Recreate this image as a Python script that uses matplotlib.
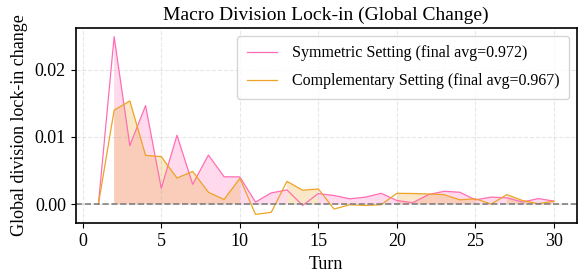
import matplotlib
matplotlib.use("Agg")
import matplotlib.pyplot as plt
import numpy as np

turns = list(range(1, 31))
symmetric = [0.0, 0.0249, 0.0087, 0.01465, 0.00235, 0.01024, 0.00294, 0.0073, 0.00406, 0.00404,
             0.0003, 0.00166, 0.0021, -0.0002, 0.00156, 0.00127, 0.00078, 0.00103, 0.0016, 0.00053,
             0.0002, 0.0014, 0.0019, 0.00176, 0.00063, 0.00103, 0.00093, 0.0003, 0.00082, 0.00044]
complementary = [0.0, 0.01397, 0.01534, 0.00725, 0.00706, 0.00387, 0.00485, 0.00176, 0.00068, 0.00382,
                 -0.00153, -0.00123, 0.00338, 0.00206, 0.00225, -0.00074, -0.0001, -0.0002, -0.0001, 0.0016,
                 0.00157, 0.0015, 0.0014, 0.00063, 0.00078, 0.0, 0.0014, 0.00053, 0.00005, 0.00044]
labels = ["Symmetric Setting (final avg=0.972)", "Complementary Setting (final avg=0.967)"]

plt.rcParams['font.family'] = ['Liberation Serif', 'DejaVu Serif']
pink = '#ff6eb4'
orange = '#eea326'

fig = plt.figure(figsize=(5.82, 2.78), dpi=100)
ax = fig.add_axes([0.130, 0.197, 0.861, 0.703])

x = np.array(turns)
s = np.array(symmetric)
c = np.array(complementary)
ax.plot(x, s, color=pink, lw=0.9, label=labels[0])
ax.fill_between(x, 0, s, where=s > 0, color=pink, alpha=0.25, lw=0)
ax.plot(x, c, color=orange, lw=0.9, label=labels[1])
ax.fill_between(x, 0, c, where=c > 0, color=orange, alpha=0.25, lw=0)
ax.axhline(0, color='gray', ls='--', lw=1.2)

ax.set_title("Macro Division Lock-in (Global Change)", fontsize=14, pad=6)
ax.set_xlabel("Turn", fontsize=13, labelpad=4)
ax.set_ylabel("Global division lock-in change", fontsize=13, labelpad=5)
ax.set_xticks([0, 5, 10, 15, 20, 25, 30])
ax.set_yticks([0.0, 0.01, 0.02])
ax.yaxis.set_major_formatter(matplotlib.ticker.FormatStrFormatter('%.2f'))
ax.tick_params(labelsize=13)
ax.grid(True, ls='--', alpha=0.3)
ax.legend(fontsize=11.5, loc='upper right', framealpha=0.8, handlelength=1.9,
          labelspacing=0.75, borderpad=0.6, handletextpad=0.9)
for sp in ax.spines.values():
    sp.set_linewidth(1.2)

fig.savefig("out.png", dpi=100)
